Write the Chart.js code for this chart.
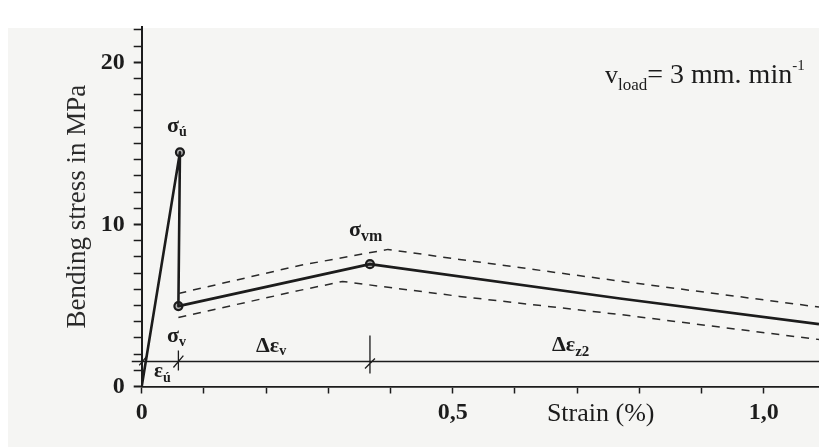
<!DOCTYPE html>
<html>
<head>
<meta charset="utf-8">
<script src="https://cdn.jsdelivr.net/npm/chart.js@4.4.1/dist/chart.umd.min.js"></script>
<style>
  html, body { margin: 0; padding: 0; background: #ffffff; }
  #wrap { width: 819px; height: 447px; position: relative; }
</style>
</head>
<body>
<div id="wrap"><canvas id="chart"></canvas></div>
<script>
// Stress-strain curve (strain in %, stress in MPa)
const solidStrain = [0, 0.0615, 0.059, 0.367, 0.769, 1.089];
const solidStress = [0, 14.45, 4.96, 7.55, 5.43, 3.85];

// Scatter band (dashed)
const upperStrain = [0.059, 0.254, 0.396, 0.511, 0.769, 1.089];
const upperStress = [5.74, 7.47, 8.46, 7.84, 6.50, 4.90];
const lowerStrain = [0.059, 0.254, 0.323, 0.511, 0.769, 1.089];
const lowerStress = [4.26, 5.93, 6.48, 5.56, 4.44, 2.90];

// Marked points: sigma_u, sigma_v, sigma_vm
const markerStrain = [0.0615, 0.059, 0.367];
const markerStress = [14.45, 4.96, 7.55];

// Dimension line with its tick marks (null = break)
const dimStrain = [-0.016, 1.089];
const dimStress = [1.54, 1.54];
const dimTickStrain = [0.059, 0.059, null, 0.367, 0.367, null, 0.051, 0.067, null, 0.359, 0.375, null, -0.004, 0.009];
const dimTickStress = [0.99, 2.22, null, 0.80, 3.15, null, 1.17, 1.91, null, 1.11, 1.73, null, 1.30, 1.91];

// Axes
const xTicks = [0, 0.1, 0.2, 0.3, 0.4, 0.5, 0.6, 0.7, 0.8, 0.9, 1.0];
const xLabeled = [0, 0.5, 1.0];
const xLabelText = ['0', '0,5', '1,0'];
const yTicks = [0, 1, 2, 3, 4, 5, 6, 7, 8, 9, 10, 11, 12, 13, 14, 15, 16, 17, 18, 19, 20, 21, 22];
const yLabeled = [0, 10, 20];
const yLabelText = ['0', '10', '20'];

const ink = '#1c1c1c';
const serif = '"Liberation Serif", "DejaVu Serif", serif';

function pts(xs, ys) {
    return xs.map((x, i) => ({ x: x, y: x === null ? null : ys[i] }));
}

function labelFor(v, values, texts) {
    const i = values.findIndex(t => Math.abs(t - v) < 1e-6);
    return i >= 0 ? texts[i] : '';
}

// Paper background: white page, lightly tinted scan area
const paperPlugin = {
    id: 'paper',
    beforeDraw(chart) {
        const ctx = chart.ctx;
        ctx.save();
        ctx.fillStyle = '#ffffff';
        ctx.fillRect(0, 0, chart.width, chart.height);
        ctx.fillStyle = '#f5f5f3';
        ctx.fillRect(8, 28, chart.width - 8, chart.height - 28);
        ctx.restore();
    }
};

// Symbol labels with subscripts
function subText(ctx, x, y, main, sub, size, subSize, dy, bold) {
    const w = bold ? 'bold ' : '';
    ctx.font = w + size + 'px ' + serif;
    ctx.fillText(main, x, y);
    const mw = ctx.measureText(main).width;
    ctx.font = w + subSize + 'px ' + serif;
    ctx.fillText(sub, x + mw, y + dy);
    return x + mw + ctx.measureText(sub).width;
}

const textPlugin = {
    id: 'symbols',
    afterDraw(chart) {
        const ctx = chart.ctx;
        const xs = chart.scales.x;
        ctx.save();
        ctx.fillStyle = ink;
        ctx.textBaseline = 'alphabetic';
        ctx.textAlign = 'left';
        subText(ctx, 167, 132, 'σ', 'ú', 22, 14, 4, true);
        subText(ctx, 167, 342, 'σ', 'v', 22, 14, 4, true);
        subText(ctx, 154, 377, 'ε', 'ú', 21, 14, 5, true);
        subText(ctx, 256, 352, 'Δε', 'v', 22, 14, 3, true);
        subText(ctx, 349, 236, 'σ', 'vm', 22, 16, 5, true);
        subText(ctx, 552, 351, 'Δε', 'z2', 22, 15, 5, true);

        // loading rate note
        let x = subText(ctx, 605, 83, 'v', 'load', 26, 17, 7, false);
        ctx.font = '28px ' + serif;
        ctx.fillText('= 3 mm. min', x, 83);
        x += ctx.measureText('= 3 mm. min').width;
        ctx.font = '15px ' + serif;
        ctx.fillText('-1', x, 70);

        // x axis title sits between the tick labels
        ctx.font = '26px ' + serif;
        ctx.textAlign = 'center';
        ctx.fillText('Strain (%)', xs.getPixelForValue(0.738), 421);
        ctx.restore();
    }
};

const ctx = document.getElementById('chart').getContext('2d');
new Chart(ctx, {
    type: 'scatter',
    data: {
        datasets: [
            {
                data: pts(upperStrain, upperStress),
                showLine: true, borderColor: '#2a2a2a', borderWidth: 1.5,
                borderDash: [8, 7], pointRadius: 0
            },
            {
                data: pts(lowerStrain, lowerStress),
                showLine: true, borderColor: '#2a2a2a', borderWidth: 1.5,
                borderDash: [8, 7], pointRadius: 0
            },
            {
                data: pts(dimStrain, dimStress),
                showLine: true, borderColor: ink, borderWidth: 1.5,
                pointRadius: 0, clip: false
            },
            {
                data: pts(dimTickStrain, dimTickStress),
                showLine: true, spanGaps: false, borderColor: ink, borderWidth: 1.3,
                pointRadius: 0, clip: false
            },
            {
                data: pts(solidStrain, solidStress),
                showLine: true, borderColor: ink, borderWidth: 2.6,
                pointRadius: 0, borderJoinStyle: 'round'
            },
            {
                data: pts(markerStrain, markerStress),
                showLine: false, pointRadius: 4, pointBorderWidth: 2.2,
                pointBorderColor: ink, pointBackgroundColor: '#b0b0b0'
            }
        ]
    },
    options: {
        responsive: true,
        maintainAspectRatio: false,
        animation: false,
        layout: { autoPadding: false, padding: { top: 26.7, right: 0, bottom: 0, left: 0 } },
        plugins: {
            legend: { display: false },
            tooltip: { enabled: false }
        },
        scales: {
            x: {
                type: 'linear',
                min: 0,
                max: 1.089,
                afterBuildTicks: s => { s.ticks = xTicks.map(v => ({ value: v })); },
                afterFit: s => { s.height = 60.5; },
                grid: { drawOnChartArea: false, drawTicks: true, tickLength: 7, tickWidth: 1.5, tickColor: ink },
                border: { display: true, color: ink, width: 1.8 },
                ticks: {
                    autoSkip: false,
                    maxRotation: 0,
                    padding: 5,
                    color: ink,
                    font: { family: serif, size: 24, weight: 'bold' },
                    callback: v => labelFor(v, xLabeled, xLabelText)
                }
            },
            y: {
                type: 'linear',
                min: 0,
                max: 22.2,
                afterBuildTicks: s => { s.ticks = yTicks.map(v => ({ value: v })); },
                afterFit: s => { s.width = 141.7; },
                grid: {
                    drawOnChartArea: false, drawTicks: true, tickLength: 8,
                    tickWidth: c => (c.tick && c.tick.value % 10 === 0 ? 2 : 1.5), tickColor: ink
                },
                border: { display: true, color: ink, width: 2 },
                ticks: {
                    autoSkip: false,
                    padding: 9,
                    color: ink,
                    font: { family: serif, size: 24, weight: 'bold' },
                    callback: v => labelFor(v, yLabeled, yLabelText)
                },
                title: {
                    display: true,
                    text: 'Bending stress in MPa',
                    color: '#2a2a2a',
                    font: { family: serif, size: 27 },
                    padding: { top: 62, bottom: 0 }
                }
            }
        }
    },
    plugins: [paperPlugin, textPlugin]
});
</script>
</body>
</html>
